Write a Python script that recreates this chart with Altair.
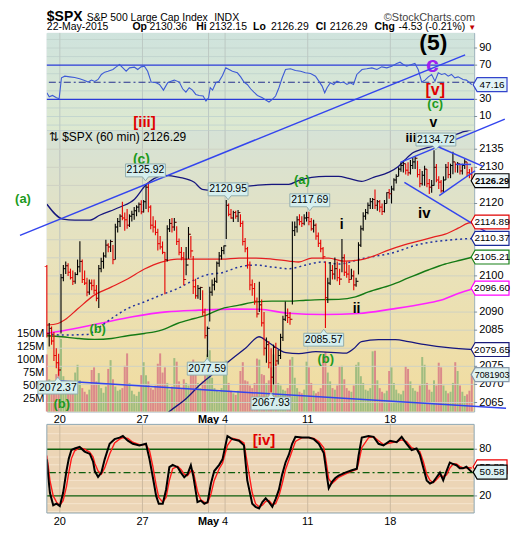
import altair as alt
import pandas as pd

FONT = "Liberation Sans"

# ---------------------------------------------------------------- data
# 60-minute bars, bar k = 1..181 (Apr 17 partial ... May 22)
PREV_CLOSE = 2102.58

HIGH = [
    2103.0, 2087.0, 2086.0, 2084.5, 2080.0, 2078.5,
    2100.5, 2103.0, 2104.0, 2103.5, 2102.0, 2101.5, 2101.0,
    2104.5, 2109.6, 2104.5, 2101.5, 2099.5, 2099.0, 2099.0,
    2099.0, 2097.5, 2103.0, 2105.0, 2106.5, 2110.0, 2109.0,
    2110.0, 2108.5, 2114.4, 2116.0, 2117.0, 2120.5, 2117.5,
    2118.5, 2117.0, 2118.0, 2119.0, 2119.5, 2120.3, 2120.9,
    2121.0, 2125.4, 2125.9, 2119.5, 2116.5, 2115.4, 2113.0,
    2111.0, 2109.5, 2106.6, 2114.0, 2115.7, 2116.0, 2116.0,
    2113.7, 2110.3, 2108.0, 2106.6, 2108.0, 2113.5, 2111.0,
    2105.5, 2099.2, 2097.5, 2097.0, 2096.0, 2091.0, 2086.0,
    2097.0, 2099.0, 2099.5, 2104.0, 2106.6, 2108.0, 2108.4,
    2121.0, 2120.0, 2118.5, 2118.0, 2118.0, 2118.2, 2117.0,
    2115.2, 2110.5, 2108.0, 2104.0, 2099.0, 2098.0, 2094.0,
    2098.4, 2093.5, 2090.0, 2083.0, 2082.0, 2080.0, 2081.0,
    2081.5, 2079.5, 2084.0, 2089.0, 2092.9, 2091.0, 2090.0,
    2115.0, 2115.0, 2116.5, 2117.0, 2116.5, 2117.0, 2117.7,
    2117.7, 2116.0, 2115.5, 2114.5, 2112.0, 2110.0, 2108.0,
    2104.0, 2099.5, 2103.8, 2103.0, 2105.1, 2104.0, 2102.0,
    2110.2, 2106.0, 2104.0, 2103.0, 2102.0, 2101.5, 2099.5,
    2109.3, 2113.9, 2117.6, 2118.5, 2120.3, 2121.5, 2121.5,
    2123.9, 2121.0, 2121.0, 2120.0, 2121.0, 2123.1, 2124.0,
    2124.9, 2127.0, 2128.1, 2130.0, 2131.4, 2131.8, 2131.0,
    2131.4, 2132.0, 2132.7, 2133.0, 2131.8, 2129.5, 2129.0,
    2130.4, 2129.5, 2126.8, 2126.5, 2134.7, 2130.9, 2127.5,
    2126.5, 2127.5, 2130.9, 2131.5, 2131.0, 2134.3, 2131.4,
    2131.5, 2131.0, 2131.0, 2132.2, 2131.5, 2129.5, 2130.0,
]
LOW = [
    2083.0, 2080.5, 2081.0, 2076.5, 2074.5, 2072.4,
    2084.1, 2098.5, 2100.5, 2100.0, 2099.0, 2097.5, 2097.8,
    2100.2, 2101.0, 2098.0, 2097.5, 2094.4, 2094.8, 2096.0,
    2095.0, 2093.0, 2091.1, 2101.0, 2102.0, 2105.0, 2106.5,
    2106.6, 2103.2, 2104.5, 2112.0, 2113.5, 2115.4, 2112.5,
    2113.0, 2113.5, 2115.0, 2115.5, 2116.5, 2117.6, 2117.0,
    2117.5, 2118.5, 2117.6, 2112.9, 2112.0, 2111.2, 2107.0,
    2107.3, 2106.0, 2094.9, 2104.0, 2112.1, 2112.0, 2112.5,
    2108.5, 2105.7, 2104.3, 2097.4, 2100.2, 2104.7, 2105.0,
    2095.0, 2093.7, 2093.7, 2093.3, 2089.0, 2082.7, 2077.6,
    2087.4, 2094.5, 2096.0, 2098.0, 2102.5, 2104.5, 2106.0,
    2110.2, 2116.5, 2115.8, 2114.9, 2115.8, 2114.9, 2113.5,
    2108.4, 2106.5, 2102.0, 2096.0, 2094.5, 2092.0, 2088.5,
    2090.0, 2086.0, 2078.0, 2076.0, 2074.5, 2067.9, 2070.0,
    2075.0, 2075.5, 2077.0, 2082.0, 2087.5, 2087.0, 2086.5,
    2092.1, 2111.0, 2112.0, 2114.0, 2113.5, 2114.0, 2115.0,
    2114.0, 2112.5, 2112.0, 2110.0, 2108.0, 2106.5, 2104.6,
    2085.6, 2092.5, 2097.5, 2099.0, 2099.0, 2098.5, 2097.5,
    2101.0, 2100.0, 2099.5, 2098.0, 2099.0, 2096.0, 2097.0,
    2100.4, 2108.0, 2112.5, 2115.5, 2117.0, 2118.5, 2118.5,
    2118.5, 2118.0, 2117.6, 2116.8, 2117.5, 2120.0, 2121.3,
    2120.0, 2123.5, 2125.5, 2127.5, 2128.8, 2128.6, 2128.0,
    2127.7, 2128.0, 2129.5, 2129.5, 2127.2, 2124.5, 2125.0,
    2124.9, 2124.5, 2122.6, 2123.0, 2124.9, 2125.9, 2124.0,
    2123.0, 2123.0, 2126.5, 2127.0, 2127.0, 2128.1, 2128.6,
    2128.5, 2128.0, 2128.0, 2129.5, 2127.5, 2127.0, 2126.3,
]
CLOSE = [
    2084.0, 2085.5, 2082.0, 2078.0, 2076.0, 2074.0,
    2099.5, 2102.0, 2102.8, 2101.0, 2099.5, 2098.5, 2100.4,
    2102.5, 2104.0, 2099.0, 2098.0, 2095.5, 2098.0, 2097.3,
    2096.0, 2093.8, 2102.0, 2104.0, 2105.5, 2108.5, 2108.0,
    2109.5, 2104.5, 2113.5, 2115.0, 2116.5, 2116.0, 2115.5,
    2114.0, 2116.5, 2117.0, 2118.0, 2119.0, 2119.8, 2117.7,
    2120.5, 2124.5, 2119.0, 2114.0, 2113.5, 2112.0, 2108.9,
    2108.0, 2106.5, 2104.5, 2113.0, 2114.5, 2113.5, 2114.8,
    2109.5, 2106.5, 2105.0, 2099.0, 2103.0, 2111.5, 2106.9,
    2097.0, 2094.5, 2096.5, 2096.8, 2090.0, 2083.5, 2085.5,
    2095.5, 2097.5, 2098.5, 2103.5, 2105.5, 2107.0, 2108.3,
    2119.5, 2117.0, 2116.0, 2117.5, 2116.5, 2117.5, 2114.5,
    2109.5, 2107.5, 2103.0, 2097.5, 2096.5, 2093.0, 2089.5,
    2092.0, 2087.0, 2080.0, 2081.0, 2076.0, 2072.0, 2080.2,
    2076.5, 2078.0, 2083.0, 2088.0, 2089.0, 2088.5, 2088.0,
    2112.5, 2113.5, 2115.5, 2115.0, 2114.5, 2116.0, 2116.1,
    2115.0, 2113.0, 2114.0, 2111.0, 2109.0, 2107.5, 2105.3,
    2094.0, 2098.0, 2101.5, 2100.5, 2102.0, 2099.5, 2099.1,
    2105.0, 2101.0, 2100.5, 2099.0, 2100.0, 2097.5, 2098.5,
    2108.5, 2113.0, 2116.5, 2117.5, 2119.5, 2120.5, 2121.1,
    2119.5, 2120.5, 2119.0, 2117.8, 2120.0, 2123.0, 2122.7,
    2124.0, 2126.5, 2127.5, 2129.5, 2130.5, 2131.0, 2129.2,
    2128.5, 2130.5, 2131.5, 2132.5, 2128.0, 2125.5, 2127.8,
    2129.5, 2125.5, 2124.5, 2125.0, 2130.0, 2126.5, 2125.9,
    2123.5, 2126.5, 2130.0, 2128.0, 2130.5, 2131.5, 2130.8,
    2131.0, 2129.0, 2130.5, 2131.5, 2128.5, 2128.0, 2126.3,
]
VOLUME_M = [
    110, 62, 48, 55, 72, 95,
    140, 68, 45, 38, 35, 40, 75,
    90, 60, 45, 38, 33, 42, 80,
    85, 58, 74, 45, 36, 48, 82,
    99, 62, 48, 40, 42, 45, 88,
    112, 55, 40, 33, 30, 38, 70,
    95, 70, 58, 45, 42, 50, 92,
    112, 75, 85, 55, 42, 48, 103,
    96, 58, 45, 62, 55, 50, 87,
    100, 78, 55, 45, 58, 70, 110,
    118, 65, 45, 40, 38, 45, 82,
    98, 55, 40, 35, 32, 40, 78,
    95, 60, 58, 50, 45, 55, 102,
    100, 72, 70, 55, 60, 85, 110,
    92, 55, 50, 42, 40, 45, 100,
    105, 65, 45, 38, 35, 42, 96,
    85, 55, 40, 35, 38, 45, 106,
    115, 75, 58, 45, 42, 50, 87,
    88, 62, 45, 40, 38, 50, 90,
    95, 68, 55, 42, 40, 45, 116,
    117, 60, 45, 38, 35, 40, 78,
    85, 55, 42, 35, 33, 40, 87,
    82, 58, 45, 40, 38, 50, 105,
    90, 55, 42, 38, 60, 50, 94,
    85, 50, 40, 35, 38, 55, 95,
    78, 50, 38, 30, 33, 40, 71,
]

# RSI(14)
RSI_POS = [1.5, 2.5, 3.9, 5.6, 6.7, 7.7, 9.1, 11.2, 13.3, 15.4,
           17.5, 19.0, 20.4, 21.8, 23.2, 24.6, 26.0, 27.4, 29.5, 30.9,
           32.3, 33.7, 35.1, 36.5, 38.6, 40.0, 41.4, 42.8, 44.2, 45.7,
           47.8, 49.2, 50.9, 52.7, 54.1, 55.5, 57.6, 59.0, 60.4, 61.8,
           63.2, 64.6, 66.0, 67.7, 68.9, 70.0, 70.7, 71.7, 73.1, 74.5,
           75.9, 77.3, 78.7, 80.1, 82.2, 83.6, 85.0, 86.4, 87.8, 89.2,
           90.7, 92.8, 94.2, 95.6, 97.0, 98.4, 99.8, 101.2, 102.6, 104.7,
           106.8, 109.0, 111.0, 113.2, 115.3, 116.7, 118.1, 119.2, 120.2, 121.6,
           123.0, 124.4, 125.8, 127.2, 128.6, 130.0, 131.4, 132.8, 135.0, 137.0,
           139.2, 141.3, 143.4, 145.5, 147.6, 149.7, 151.1, 152.5, 153.9, 156.0,
           157.4, 158.8, 160.3, 161.7, 163.1, 164.5, 165.9, 167.3, 168.7, 170.1,
           171.5, 172.9, 174.3, 175.7, 177.8, 179.2, 180.6, 181.5]
RSI_VAL = [37.7, 33.1, 34.6, 31.9, 30.8, 55.2, 57.1, 56.3, 55.6, 54.0,
           52.1, 50.2, 52.5, 50.9, 53.3, 59.1, 61.8, 62.9, 64.9, 68.0,
           70.7, 66.8, 62.9, 66.8, 67.6, 64.9, 68.0, 68.8, 62.9, 50.2,
           49.4, 47.4, 40.8, 49.4, 51.3, 52.5, 50.2, 42.4, 38.5, 43.6,
           40.8, 35.8, 34.6, 33.9, 28.1, 31.9, 43.6, 40.8, 49.4, 51.3,
           57.9, 66.8, 64.9, 62.9, 61.0, 56.3, 50.2, 47.4, 42.4, 38.5,
           34.6, 31.9, 29.2, 26.9, 30.0, 33.9, 43.6, 55.2, 64.9, 65.7,
           63.7, 62.9, 61.0, 60.2, 57.1, 51.3, 45.5, 37.7, 43.6, 49.4,
           47.4, 51.3, 49.4, 50.2, 47.4, 49.4, 47.4, 59.1, 64.9, 65.7,
           66.8, 64.9, 68.0, 66.8, 68.8, 71.9, 73.4, 70.7, 68.8, 70.7,
           71.9, 64.9, 50.2, 52.5, 56.3, 59.1, 51.3, 61.0, 59.1, 60.2,
           57.1, 59.1, 55.2, 56.3, 53.3, 52.5, 49.4, 47.16]

# Slow stochastic %K (black) and %D (red)
STO_POS = [1.5, 2.1, 2.8, 4.2, 5.6, 7.0, 8.4, 9.8, 10.8, 11.9,
           13.3, 15.4, 17.5, 19.7, 21.1, 21.8, 23.2, 24.6, 26.0, 28.1,
           30.2, 32.3, 33.7, 35.8, 37.9, 40.7, 43.5, 45.0, 46.4, 47.8,
           48.9, 50.6, 52.0, 53.4, 54.8, 56.9, 58.3, 59.7, 61.1, 62.5,
           63.5, 65.3, 66.7, 68.2, 69.6, 71.0, 72.4, 74.5, 75.9, 78.0,
           80.1, 82.9, 85.0, 86.4, 88.5, 89.9, 91.4, 92.8, 94.2, 95.6,
           97.0, 98.4, 99.8, 101.2, 102.6, 104.0, 105.4, 106.8, 109.6, 112.5,
           114.6, 116.7, 118.8, 119.5, 120.2, 120.9, 122.3, 123.7, 125.1, 127.9,
           130.7, 132.8, 133.5, 134.9, 137.8, 139.9, 142.0, 144.1, 146.9, 149.7,
           151.8, 153.9, 156.0, 158.1, 159.5, 161.0, 162.4, 163.8, 165.2, 166.6,
           168.0, 169.4, 170.8, 172.2, 173.6, 175.0, 176.4, 177.8, 179.2, 181.5]
STO_K = [67, 45, 24, 8, 10, 7, 24, 52, 68, 79,
         81, 83, 77, 74, 64, 52, 44.5, 50, 67, 87,
         93, 95, 97, 91, 87, 85, 87, 67, 44, 20,
         10, 10, 28, 57, 60, 57, 50, 44, 48, 59.5,
         46, 12, 14, 10, 12, 36, 52, 60, 67, 97,
         93, 91, 85, 40, 10, 6, 4, 12, 17, 12,
         6, 16, 28, 48, 63, 73, 87, 96, 95, 95,
         93, 87, 75, 60, 44, 30, 38, 43, 46, 50,
         53, 55, 71, 95, 97, 96, 87, 85, 91, 89,
         96, 87, 79, 81, 73, 56, 40, 36, 38, 44,
         50, 40, 52, 63, 61, 59.5, 55.5, 55.5, 57.5, 50.58]
STO_D = [72, 58, 40, 20, 12, 8, 14, 32, 50, 68,
         78, 82, 80, 76, 70, 62, 52, 48, 56, 74,
         88, 93, 95, 94, 89, 86, 86, 78, 58, 34,
         18, 12, 18, 40, 55, 58, 54, 48, 46, 52,
         52, 26, 15, 12, 11, 22, 40, 55, 62, 85,
         94, 92, 88, 62, 24, 10, 6, 8, 13, 14,
         9, 10, 20, 36, 54, 66, 78, 90, 95, 95,
         94, 90, 82, 70, 56, 42, 36, 40, 44, 48,
         52, 54, 62, 82, 95, 96, 91, 86, 88, 90,
         92, 90, 82, 80, 77, 64, 48, 40, 37, 41,
         46, 45, 47, 56, 61, 61, 58, 56, 56.5, 55.9]

# Overlays on price
MA_RED_POS = [1.52, 6.16, 9.11, 14.59, 21.76, 28.93, 35.68, 42.85, 50.02, 56.77,
              63.94, 69.00, 75.75, 82.92, 90.10, 96.85, 104.01, 108.23, 113.72, 120.89,
              127.21, 133.54, 139.87, 146.19, 152.52, 158.85, 165.18, 170.24, 175.72, 179.94, 182.47]
MA_RED_VAL = [2086.40, 2086.84, 2087.86, 2090.89, 2094.74, 2096.95, 2099.15, 2101.90, 2103.83, 2104.65,
              2104.65, 2104.65, 2104.65, 2104.93, 2104.93, 2104.65, 2104.10, 2103.83, 2104.93, 2104.93,
              2104.10, 2104.38, 2105.48, 2107.13, 2108.51, 2109.61, 2110.70, 2111.53, 2113.18, 2114.56, 2114.89]
MA_DOT_POS = [1.52, 7.84, 18.81, 23.03, 28.93, 35.68, 42.85, 50.02, 56.77, 63.94,
              69.00, 75.75, 82.92, 90.10, 96.85, 104.01, 111.18, 117.93, 125.10, 134.81,
              149.15, 157.58, 170.24, 182.47]
MA_DOT_VAL = [2084.09, 2083.65, 2083.82, 2085.47, 2088.22, 2090.97, 2092.82, 2094.74, 2096.48, 2098.87,
              2100.25, 2100.88, 2102.45, 2103.00, 2102.45, 2101.98, 2103.00, 2103.83, 2103.28, 2104.73,
              2106.58, 2108.43, 2109.80, 2110.34]
MA_GREEN_POS = [1.52, 7.84, 14.59, 21.76, 28.93, 35.68, 42.85, 50.02, 56.77, 63.94,
                69.00, 75.75, 82.92, 90.10, 96.85, 104.01, 111.18, 117.93, 125.10, 132.27,
                137.76, 147.46, 154.63, 163.07, 170.24, 176.99, 182.47]
MA_GREEN_VAL = [2083.46, 2083.18, 2082.71, 2082.44, 2082.71, 2083.46, 2084.09, 2085.03, 2086.84, 2088.22,
                2089.16, 2090.97, 2091.91, 2092.82, 2093.01, 2093.01, 2093.28, 2093.45, 2093.50, 2094.19,
                2095.57, 2097.50, 2099.42, 2101.62, 2103.28, 2104.38, 2105.28]
MA_MAG_POS = [1.52, 9.95, 23.87, 37.79, 52.13, 66.05, 79.97, 91.36, 104.01, 118.78,
              133.54, 147.46, 161.80, 169.39, 175.72, 182.47]
MA_MAG_VAL = [2084.15, 2085.03, 2086.84, 2088.69, 2090.06, 2090.53, 2090.81, 2090.76, 2089.65, 2089.32,
              2089.60, 2090.81, 2092.35, 2093.50, 2095.10, 2096.59]
BB_UP_POS = [1.52, 8.27, 13.33, 19.65, 23.87, 32.31, 38.64, 43.70, 47.07, 51.29,
             57.62, 63.94, 67.32, 71.54, 77.44, 82.92, 90.10, 96.85, 104.01, 108.23,
             113.72, 119.62, 125.10, 129.32, 134.81, 139.87, 146.19, 150.41, 153.36, 156.74,
             160.11, 163.07, 167.28, 170.24, 173.61, 176.99, 179.94, 182.47]
BB_UP_VAL = [2119.79, 2115.66, 2115.38, 2115.38, 2116.76, 2118.96, 2121.17, 2125.30, 2126.95, 2127.77,
             2127.22, 2125.85, 2123.92, 2123.64, 2123.92, 2124.47, 2125.02, 2125.30, 2125.30, 2126.40,
             2127.22, 2127.50, 2127.50, 2126.95, 2126.12, 2127.22, 2128.60, 2130.25, 2132.18, 2134.10,
             2134.93, 2135.48, 2136.31, 2137.68, 2138.78, 2139.61, 2140.16, 2140.71]
BB_LO_POS = [44.96, 53.40, 60.57, 66.05, 73.22, 79.97, 85.88, 91.36, 95.58, 102.75,
             108.23, 115.40, 128.06, 131.43, 134.81, 141.98, 149.15, 154.63, 161.80, 171.50, 182.47]
BB_LO_VAL = [2057.59, 2062.54, 2066.11, 2069.69, 2073.55, 2077.13, 2080.15, 2083.18, 2081.53, 2078.78,
             2078.50, 2079.05, 2078.64, 2079.88, 2081.81, 2082.36, 2082.36, 2081.81, 2080.98, 2080.15, 2079.60]

# hand-drawn trendlines (start bar, start price, end bar, end price)
TRENDLINES = [
    (-9.87, 2111.20, 178.67, 2161.08),
    (6.0, 2071.0, 196.0, 2063.40),
    (151.26, 2131.35, 195.5, 2143.30),
    (152.94, 2125.85, 194.70, 2109.33),
    (166.02, 2136.03, 186.26, 2130.25),
    (167.71, 2122.17, 182.89, 2129.05),
    (174.88, 2130.80, 181.20, 2130.80),
]

DAY_TICKS = [7, 42, 70, 77, 112, 147]
DAY_LABELS = ["20", "27", "May", "4", "11", "18"]
BOLD_LABELS = ["May"]
PRICE_TICKS = list(range(2065, 2140, 5))
PRICE_LABELS = [2065, 2070, 2075, 2085, 2090, 2100, 2120, 2130, 2135]   # the rest sit under value boxes
VOL_TICKS_M = [25, 50, 75, 100, 125, 150]
RSI_TICKS = [10, 30, 50, 70, 90]
RSI_LABELS = [10, 30, 70, 90]
STO_TICKS = [20, 50, 80]
STO_LABELS = [20, 80]

# ---------------------------------------------------------------- layout
W = 429
H_RSI, H_MAIN = 98, 282
GAP, H_STO = 13, 89           # stochastic panel sits GAP px below the price panel
X_MIN, X_MAX = 1.5, 182.5
XS = alt.Scale(domain=[X_MIN, X_MAX], nice=False, zero=False, padding=0)
YP = alt.Scale(domain=[2062.54, 2140.16], nice=False, zero=False, padding=0)
YV = alt.Scale(domain=[0, 542e6], nice=False, zero=True, padding=0)
YR = alt.Scale(domain=[-6.4, 107.6], nice=False, zero=False, padding=0)
STO_LO, STO_HI = -2.0, 112.0
STO_TOP = STO_HI + GAP * (STO_HI - STO_LO) / H_STO
YS = alt.Scale(domain=[STO_LO, STO_TOP], nice=False, zero=False, padding=0)
ONE = pd.DataFrame({"a": [0]})
VB_U = 189.25          # bar position of the value boxes right of the panels


def X(axis=None):
    return alt.X("u:Q", scale=XS, axis=axis)


def bg(stops, y0, y1):
    grad = alt.Gradient(gradient="linear",
                        stops=[alt.GradientStop(offset=o, color=c) for o, c in stops],
                        x1=0, x2=0, y1=0, y2=1)
    return alt.Chart(ONE).mark_rect(fill=grad).encode(
        x=alt.value(0), x2=alt.value(W), y=alt.value(y0), y2=alt.value(y1))


def vgrid(color, y0=None, y1=None):
    enc = dict(x=X())
    if y0 is not None:
        enc.update(y=alt.value(y0), y2=alt.value(y1))
    return alt.Chart(pd.DataFrame({"u": DAY_TICKS})).mark_rule(color=color, strokeWidth=1).encode(**enc)


def hlines(vals, scale, color, width=1.0, dash=None):
    kw = dict(color=color, strokeWidth=width)
    if dash:
        kw["strokeDash"] = dash
    return alt.Chart(pd.DataFrame({"y": vals})).mark_rule(**kw).encode(
        y=alt.Y("y:Q", scale=scale, axis=None))


def right_scale_labels(ticks, labels, scale):
    """tick marks and labels of the right-hand value axis, placed through the y scale"""
    ticks_l = alt.Chart(pd.DataFrame({"y": ticks})).mark_rule(color="#7d8f99", strokeWidth=1).encode(
        x=alt.value(W), x2=alt.value(W + 3), y=alt.Y("y:Q", scale=scale, axis=None))
    d = pd.DataFrame({"y": labels, "u": [X_MAX] * len(labels)})
    text = alt.Chart(d).mark_text(align="left", baseline="middle", dx=5, fontSize=11, font=FONT,
                                  color="#000").encode(
        x=X(), y=alt.Y("y:Q", scale=scale, axis=None), text=alt.Text("y:Q", format="d"))
    return [ticks_l, text]


def bottom_scale_labels(h):
    """date labels under a panel, placed through the x scale"""
    out = []
    for bold in (False, True):
        pos = [p for p, l in zip(DAY_TICKS, DAY_LABELS) if (l in BOLD_LABELS) == bold]
        lab = [l for l in DAY_LABELS if (l in BOLD_LABELS) == bold]
        out.append(alt.Chart(pd.DataFrame({"u": pos, "t": lab})).mark_text(
            align="center", baseline="top", fontSize=11, font=FONT, color="#000",
            fontWeight="bold" if bold else "normal").encode(
            x=X(), y=alt.value(h + 3), text="t:N"))
    return out


def series(pos, val, scale, color, width=1.3, dash=None, clip=True, interp="linear"):
    kw = dict(color=color, strokeWidth=width, clip=clip, interpolate=interp)
    if dash:
        kw["strokeDash"] = dash
    return alt.Chart(pd.DataFrame({"u": pos, "y": val})).mark_line(**kw).encode(
        x=X(), y=alt.Y("y:Q", scale=scale, axis=None))


def label(text, u, y, scale, color, size, weight="bold", align="center"):
    return alt.Chart(pd.DataFrame({"u": [u], "y": [y]})).mark_text(
        text=text, color=color, fontSize=size, fontWeight=weight, font=FONT,
        align=align, baseline="middle").encode(x=X(), y=alt.Y("y:Q", scale=scale, axis=None))


def callout(text, u, y, up):
    w, h, p = 40.0, 13.0, 4.0
    hw = w / 2
    hy = (h / 2) / hw
    py = hy + p / hw
    b = 3.0 / hw
    if up:
        path = f"M-1,{-hy:.3f}L{-b:.3f},{-hy:.3f}L0,{-py:.3f}L{b:.3f},{-hy:.3f}L1,{-hy:.3f}L1,{hy:.3f}L-1,{hy:.3f}Z"
    else:
        path = f"M-1,{-hy:.3f}L1,{-hy:.3f}L1,{hy:.3f}L{b:.3f},{hy:.3f}L0,{py:.3f}L{-b:.3f},{hy:.3f}L-1,{hy:.3f}Z"
    d = pd.DataFrame({"u": [u], "y": [y]})
    box = alt.Chart(d).mark_point(shape=path, size=w * w, filled=True, fill="#d5efef",
                                  stroke="#93adad", strokeWidth=1, opacity=1, fillOpacity=1).encode(
        x=X(), y=alt.Y("y:Q", scale=YP, axis=None))
    t = alt.Chart(d).mark_text(text=text, fontSize=10.5, font=FONT, color="#000",
                               baseline="middle", align="center").encode(
        x=X(), y=alt.Y("y:Q", scale=YP, axis=None))
    return [box, t]


def valbox(text, y, scale, border, w=38.0, fill="#ffffff", bold=False, size=10):
    hw = w / 2
    hy = 7.0 / hw
    bx = -1 + 4.0 / hw
    path = f"M-1,0L{bx:.3f},{-hy:.3f}L1,{-hy:.3f}L1,{hy:.3f}L{bx:.3f},{hy:.3f}Z"
    d = pd.DataFrame({"u": [VB_U], "y": [y]})
    box = alt.Chart(d).mark_point(shape=path, size=w * w, filled=True, fill=fill, stroke=border,
                                  strokeWidth=1.2, opacity=1, fillOpacity=1).encode(
        x=X(), y=alt.Y("y:Q", scale=scale, axis=None))
    t = alt.Chart(d).mark_text(text=text, fontSize=size, font=FONT, color="#000",
                               fontWeight="bold" if bold else "normal", baseline="middle",
                               align="center", dx=2).encode(
        x=X(), y=alt.Y("y:Q", scale=scale, axis=None))
    return [box, t]


def htxt(s, x, y, size, weight="normal", color="#000", align="left"):
    return alt.Chart(ONE).mark_text(text=s, fontSize=size, fontWeight=weight, color=color,
                                    align=align, baseline="alphabetic", font=FONT).encode(
        x=alt.value(x), y=alt.value(y))


GREEN = "#1d9a1d"
RED = "#e00000"

# ---------------------------------------------------------------- RSI panel
rsi_layers = [
    bg([(0, "#cfe3dd"), (1, "#dde9d0")], 0, H_RSI),
    hlines([0, 10, 20, 40, 60, 80, 90, 100], YR, "#c3d6cf"),
    vgrid("#bcc9c4"),
    hlines([70, 30], YR, "#2a3ad8", 1.3),
    hlines([50], YR, "#26308f", 1.1, [7, 3, 2, 3]),
    series(RSI_POS, RSI_VAL, YR, "#3d5ad6", 1.1),
]
rsi_layers += right_scale_labels(RSI_TICKS, RSI_LABELS, YR)
rsi_layers += [
    label("(5)", 165.18, 95.5, YR, "#000", 23),
    label("c", 164.75, 70.0, YR, "#a020f0", 23),
    label("[v]", 166.02, 41.3, YR, RED, 16),
    label("(c)", 166.02, 25.0, YR, GREEN, 13),
    label("[iii]", 42.85, 4.1, YR, RED, 15),
    label("v", 165.18, 2.5, YR, "#000", 14),
]
rsi_layers += valbox("47.16", 47.16, YR, "#3344cc", w=34, fill="#e2f4f8")
# header
rsi_layers += [
    htxt("$SPX", 0, -12, 14, "bold"),
    htxt("S&P 500 Large Cap Index", 40, -12, 10.5),
    htxt("INDX", 168, -12, 10.5),
    htxt("\u00a9StockCharts.com", 430, -12, 11, color="#444", align="right"),
    htxt("22-May-2015", 0, -2.5, 10.5),
    htxt("Op", 86, -2.5, 10.5, "bold"), htxt("2130.36", 103, -2.5, 10.5),
    htxt("Hi", 150, -2.5, 10.5, "bold"), htxt("2132.15", 163, -2.5, 10.5),
    htxt("Lo", 207, -2.5, 10.5, "bold"), htxt("2126.29", 225, -2.5, 10.5),
    htxt("Cl", 270, -2.5, 10.5, "bold"), htxt("2126.29", 284, -2.5, 10.5),
    htxt("Chg", 329, -2.5, 10.5, "bold"), htxt("-4.53 (-0.21%)", 353, -2.5, 10.5),
    htxt("\u25bc", 423, -3, 8, color="#c00000"),
]
rsi = alt.layer(*rsi_layers).properties(width=W, height=H_RSI)

# ---------------------------------------------------------------- main panel
bars = pd.DataFrame({
    "u": [k + 0.5 for k in range(1, len(CLOSE) + 1)],
    "h": HIGH, "l": LOW, "c": CLOSE,
    "pc": [PREV_CLOSE] + CLOSE[:-1],
    "vol": [v * 1e6 for v in VOLUME_M],
})
up = alt.datum.c >= alt.datum.pc
bar_color = alt.condition(up, alt.value("#000000"), alt.value("#e60000"))
vol_color = alt.condition(up, alt.value("#a0bd80"), alt.value("#db8a8a"))

vol_axis = alt.Axis(orient="left", values=[v * 1e6 for v in VOL_TICKS_M],
                    labelExpr="(datum.value / 1000000) + 'M'", grid=False, ticks=False, domain=False,
                    labelPadding=3, labelFontSize=11, labelFont=FONT, labelColor="#000",
                    labelOverlap=False, labelFlush=False, title=None)

vol_group = alt.layer(
    bg([(0, "#d6e2d6"), (0.45, "#e8e2bc"), (1, "#f2dc9e")], 0, H_MAIN),
    vgrid("#bcc3bd"),
    alt.Chart(bars).mark_bar(width=2.0).encode(
        x=X(), y=alt.Y("vol:Q", scale=YV, axis=vol_axis), color=vol_color),
)

price_layers = [
    hlines(PRICE_TICKS, YP, "#cfd2c4"),
    series(MA_MAG_POS, MA_MAG_VAL, YP, "#ff22ff", 1.6, interp="monotone"),
    series(MA_GREEN_POS, MA_GREEN_VAL, YP, "#157a15", 1.4, interp="monotone"),
    series(MA_DOT_POS, MA_DOT_VAL, YP, "#2233a0", 1.5, dash=[2, 3], interp="monotone"),
    series(MA_RED_POS, MA_RED_VAL, YP, "#e62020", 1.3, interp="monotone"),
    series(BB_UP_POS, BB_UP_VAL, YP, "#16167e", 1.3, interp="monotone"),
    series(BB_LO_POS, BB_LO_VAL, YP, "#16167e", 1.3, interp="monotone"),
]
price_layers += right_scale_labels(PRICE_TICKS, PRICE_LABELS, YP)
price_layers += bottom_scale_labels(H_MAIN)
price_layers += [
    alt.Chart(bars).mark_rule(strokeWidth=1.1).encode(
        x=X(), y=alt.Y("l:Q", scale=YP, axis=None), y2="h:Q", color=bar_color),
    alt.Chart(bars).mark_tick(orient="horizontal", size=2.2, thickness=1, xOffset=-1.1).encode(
        x=X(), y=alt.Y("pc:Q", scale=YP, axis=None), color=bar_color),
    alt.Chart(bars).mark_tick(orient="horizontal", size=2.2, thickness=1, xOffset=1.1).encode(
        x=X(), y=alt.Y("c:Q", scale=YP, axis=None), color=bar_color),
]
tl_rows = []
for i, (u1, p1, u2, p2) in enumerate(TRENDLINES):
    tl_rows += [{"id": i, "u": u1, "y": p1}, {"id": i, "u": u2, "y": p2}]
price_layers.append(
    alt.Chart(pd.DataFrame(tl_rows)).mark_line(color="#3345ee", strokeWidth=1.5, clip=False).encode(
        x=X(), y=alt.Y("y:Q", scale=YP, axis=None), detail="id:N"))

price_layers += [
    label("(c)", 41.59, 2131.90, YP, GREEN, 14),
    label("(a)", -8.61, 2121.17, YP, GREEN, 13),
    label("(a)", 109.50, 2126.40, YP, GREEN, 13),
    label("iii", 155.7, 2138.0, YP, "#000", 13),
    label("iv", 161.38, 2117.31, YP, "#000", 15),
    label("i", 126.37, 2114.01, YP, "#000", 14),
    label("ii", 132.70, 2090.89, YP, "#000", 14),
    label("(b)", 23.03, 2085.38, YP, GREEN, 13),
    label("(b)", 7.84, 2064.47, YP, GREEN, 13),
    label("(b)", 119.62, 2077.13, YP, GREEN, 13),
    alt.Chart(ONE).mark_text(text="\u21c5 $SPX (60 min) 2126.29", fontSize=12, font=FONT,
                             align="left", baseline="alphabetic", color="#000").encode(
        x=alt.value(2), y=alt.value(10)),
]
price_layers += callout("2125.92", 43.27, 2129.15, False)
price_layers += callout("2120.95", 78.28, 2123.92, False)
price_layers += callout("2117.69", 112.87, 2120.89, False)
price_layers += callout("2134.72", 166.3, 2137.68, False)
price_layers += callout("2072.37", 6.16, 2069.14, True)
price_layers += callout("2077.59", 69.43, 2074.37, True)
price_layers += callout("2067.93", 96.42, 2064.74, True)
price_layers += callout("2085.57", 118.78, 2082.36, True)

price_layers += valbox("2114.89", 2114.89, YP, "#e00000")
price_layers += valbox("2110.37", 2110.37, YP, "#1a2a99")
price_layers += valbox("2105.21", 2105.21, YP, "#168016")
price_layers += valbox("2096.60", 2096.60, YP, "#ff00ff")
price_layers += valbox("2079.65", 2079.65, YP, "#1a1a7a")
price_layers += valbox("7081903", 2072.72, YP, "#8899aa", fill="#e0f3f3", size=9)
price_layers += valbox("2126.29", 2126.29, YP, "#000000", fill="#eef7f9", bold=True, size=9.5)

price_group = alt.layer(*price_layers)
main = alt.layer(vol_group, price_group).resolve_scale(y="independent").properties(
    width=W, height=H_MAIN)

# ---------------------------------------------------------------- stochastic panel
H_STO_ALL = GAP + H_STO
sto_layers = [
    bg([(0, "#ecd5b6"), (1, "#ecd5b6")], GAP, H_STO_ALL),
    hlines([0, 10, 30, 40, 60, 70, 90, 100, 110], YS, "#f5e5ce"),
    vgrid("#cdb9a0", GAP, H_STO_ALL),
    hlines([80, 20], YS, "#0d5e0d", 1.3),
    hlines([50], YS, "#0d5e0d", 1.1, [7, 3, 2, 3]),
    series(STO_POS, STO_D, YS, "#ff1a1a", 1.4),
    series(STO_POS, STO_K, YS, "#000000", 2.0),
    label("[iv]", 93.47, 91.5, YS, RED, 15),
    alt.Chart(ONE).mark_rect(fillOpacity=0, stroke="#8ea7b3", strokeWidth=1).encode(
        x=alt.value(0), x2=alt.value(W), y=alt.value(GAP), y2=alt.value(H_STO_ALL)),
]
sto_layers += right_scale_labels(STO_TICKS, STO_LABELS, YS)
sto_layers += bottom_scale_labels(H_STO_ALL)
sto_layers += valbox("55.88", 57.5, YS, "#ee0000", w=34)
sto_layers += valbox("50.58", 50.58, YS, "#000000", w=34, fill="#dcf1f3")
sto = alt.layer(*sto_layers).properties(
    width=W, height=H_STO_ALL, view=alt.ViewBackground(stroke="transparent"))

# ---------------------------------------------------------------- assemble
chart = alt.vconcat(rsi, main, sto, spacing=0, bounds="flush").properties(
    padding={"left": 6, "top": 0, "right": 0, "bottom": 0},
    background="#ffffff",
).configure_view(stroke="#8ea7b3", strokeWidth=1).configure_axis(labelFont=FONT)

chart.save("out.html", embed_options={"renderer": "svg", "actions": False})
